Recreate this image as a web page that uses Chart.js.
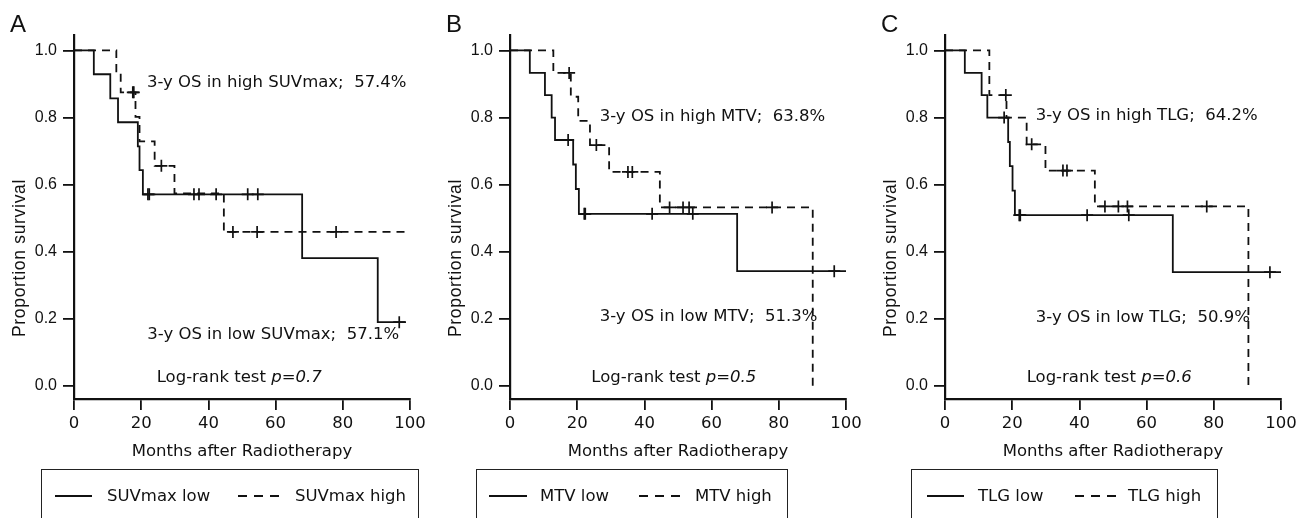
<!DOCTYPE html>
<html>
<head>
<meta charset="utf-8">
<script src="https://cdn.jsdelivr.net/npm/chart.js@4.4.1/dist/chart.umd.min.js"></script>
<style>
  body { margin: 0; background: #fff; width: 1306px; height: 518px; overflow: hidden; position: relative;
         font-family: "DejaVu Sans", sans-serif; color: #111; }
  .panel { position: absolute; top: 0; width: 436px; height: 518px; }
  .legend { position: absolute; top: 469px; height: 70px; border: 1.5px solid #222; box-sizing: border-box; }
  .sample { position: absolute; top: 495px; height: 1.6px; }
  .sample.solid { background: #111; }
  .sample.dashed { background: repeating-linear-gradient(to right, #111 0 9px, transparent 9px 16px); }
  .ltext { position: absolute; top: 495px; transform: translateY(-50%); font-size: 16.5px; white-space: nowrap; }
</style>
</head>
<body>
<div class="panel" style="left:0px"><canvas id="chartA"></canvas></div>
<div class="panel" style="left:436px"><canvas id="chartB"></canvas></div>
<div class="panel" style="left:871px"><canvas id="chartC"></canvas></div>

<div class="legend" style="left:41px;width:378px"></div>
<div class="sample solid" style="left:55px;width:37px"></div>
<div class="ltext" style="left:107px">SUVmax low</div>
<div class="sample dashed" style="left:238px;width:41px"></div>
<div class="ltext" style="left:295px">SUVmax high</div>

<div class="legend" style="left:476px;width:312px"></div>
<div class="sample solid" style="left:489px;width:38px"></div>
<div class="ltext" style="left:540px">MTV low</div>
<div class="sample dashed" style="left:639px;width:41px"></div>
<div class="ltext" style="left:695px">MTV high</div>

<div class="legend" style="left:911px;width:307px"></div>
<div class="sample solid" style="left:927px;width:37px"></div>
<div class="ltext" style="left:978px">TLG low</div>
<div class="sample dashed" style="left:1075px;width:41px"></div>
<div class="ltext" style="left:1128px">TLG high</div>

<script>
// axis ticks
const monthTicks = [0, 20, 40, 60, 80, 100];
const survTicks = [0, 0.2, 0.4, 0.6, 0.8, 1.0];

// A: SUVmax  (event times in months, survival after the step, censor times)
const suvLowMonths = [0, 5.9, 10.8, 13.1, 19.0, 19.5, 20.5, 67.9, 90.4, 98.8];
const suvLowSurv   = [1, 0.929, 0.857, 0.786, 0.714, 0.643, 0.571, 0.381, 0.19, 0.19];
const suvLowCensor = [22, 22.4, 35.7, 37.2, 42.3, 51.7, 54.7, 96.8];
const suvHighMonths = [0, 12.6, 13.9, 18.3, 19.5, 24.0, 29.9, 44.6, 99.8];
const suvHighSurv   = [1, 0.938, 0.875, 0.802, 0.729, 0.656, 0.574, 0.459, 0.459];
const suvHighCensor = [17.5, 17.8, 26.0, 47.3, 54.5, 78.0];

// B: MTV
const mtvLowMonths = [0, 5.9, 10.4, 12.4, 13.4, 18.8, 19.6, 20.5, 67.6, 100];
const mtvLowSurv   = [1, 0.933, 0.867, 0.8, 0.733, 0.66, 0.587, 0.513, 0.342, 0.342];
const mtvLowCensor = [17.3, 22.1, 22.4, 42.3, 54.4, 96.5];
const mtvHighMonths = [0, 12.9, 18.1, 20.3, 23.8, 29.5, 44.6, 90.1];
const mtvHighSurv   = [1, 0.933, 0.862, 0.79, 0.718, 0.638, 0.532, 0];
const mtvHighCensor = [17.6, 25.7, 35.1, 36.4, 47.5, 51.5, 53.3, 78.0];

// C: TLG
const tlgLowMonths = [0, 5.9, 10.9, 12.6, 18.8, 19.3, 20.1, 20.8, 67.8, 100];
const tlgLowSurv   = [1, 0.933, 0.867, 0.8, 0.727, 0.655, 0.582, 0.509, 0.339, 0.339];
const tlgLowCensor = [17.6, 22.1, 22.4, 42.3, 54.7, 96.7];
const tlgHighMonths = [0, 13.2, 18.3, 24.3, 29.9, 44.6, 90.3];
const tlgHighSurv   = [1, 0.867, 0.8, 0.72, 0.642, 0.535, 0];
const tlgHighCensor = [18.1, 25.8, 35.1, 36.3, 47.6, 51.6, 54.3, 77.9];

// annotation texts
const markers = ['SUVmax', 'MTV', 'TLG'];
const highOS = ['57.4%', '63.8%', '64.2%'];
const lowOS = ['57.1%', '51.3%', '50.9%'];
const pValues = ['0.7', '0.5', '0.6'];

const ink = '#111';
const tickFont = { family: 'Liberation Sans', size: 16 };
const textFont = '16.5px "DejaVu Sans"';

function steps(months, surv) {
  return months.map((m, i) => ({ x: m, y: surv[i] }));
}
// survival value of the curve at time t (last step at or before t)
function censorPoints(times, months, surv) {
  return times.map(t => {
    let s = surv[0];
    for (let i = 0; i < months.length; i++) if (months[i] <= t) s = surv[i];
    return { x: t, y: s };
  });
}

const panelText = {
  id: 'panelText',
  afterDraw(chart, args, o) {
    const { ctx, scales: { x, y } } = chart;
    ctx.save();
    ctx.fillStyle = ink;
    // panel letter
    ctx.font = '24px "Liberation Sans"';
    ctx.textBaseline = 'alphabetic';
    ctx.textAlign = 'left';
    ctx.fillText(o.letter, 10, 32);
    // y title
    ctx.save();
    ctx.translate(20, 258);
    ctx.rotate(-Math.PI / 2);
    ctx.font = '17.5px "Liberation Sans"';
    ctx.letterSpacing = '0.7px';
    ctx.textAlign = 'center';
    ctx.textBaseline = 'middle';
    ctx.fillText('Proportion survival', 0, 0);
    ctx.restore();
    // notes
    ctx.textBaseline = 'middle';
    o.notes.forEach(n => {
      const px = x.getPixelForValue(n.at[0]);
      const py = y.getPixelForValue(n.at[1]);
      ctx.font = textFont;
      ctx.fillText(n.text, px, py);
      if (n.italic) {
        const w = ctx.measureText(n.text).width;
        ctx.font = 'italic ' + textFont;
        ctx.fillText(n.italic, px + w, py);
      }
    });
    ctx.restore();
  }
};

function makePanel(id, letter, low, high, idx, notePos) {
  const lineDs = (data, dash) => ({
    data, borderColor: ink, borderWidth: 1.8, borderDash: dash, stepped: 'before',
    pointRadius: 0, fill: false, clip: false
  });
  const crossDs = (data) => ({
    data, showLine: false, pointStyle: 'cross', pointRadius: 6, pointBorderWidth: 1.7,
    pointBorderColor: ink, borderColor: ink, clip: false
  });
  new Chart(document.getElementById(id), {
    type: 'line',
    data: {
      datasets: [
        lineDs(steps(low.months, low.surv), []),
        lineDs(steps(high.months, high.surv), [8, 6]),
        crossDs(censorPoints(low.censor, low.months, low.surv)),
        crossDs(censorPoints(high.censor, high.months, high.surv))
      ]
    },
    options: {
      responsive: false,
      animation: false,
      layout: { padding: { left: 0, top: 35, right: 26, bottom: 49 } },
      plugins: {
        legend: { display: false },
        tooltip: { enabled: false },
        panelText: {
          letter,
          notes: [
            { text: '3-y OS in high ' + markers[idx] + ';  ' + highOS[idx], at: notePos[0] },
            { text: '3-y OS in low ' + markers[idx] + ';  ' + lowOS[idx], at: notePos[1] },
            { text: 'Log-rank test ', italic: 'p=' + pValues[idx], at: notePos[2] }
          ]
        }
      },
      scales: {
        x: {
          type: 'linear', min: 0, max: 100,
          afterBuildTicks: s => { s.ticks = monthTicks.map(v => ({ value: v })); },
          afterFit: s => { s.height = 70; },
          grid: { drawOnChartArea: false, drawTicks: true, tickLength: 11, color: ink, lineWidth: 1.8 },
          border: { display: true, color: ink, width: 2.2 },
          ticks: { font: { family: 'DejaVu Sans', size: 16.5 }, color: ink, padding: 4, maxRotation: 0, autoSkip: false },
          title: { display: true, text: 'Months after Radiotherapy', color: ink,
                   font: { family: 'DejaVu Sans', size: 16.5 }, padding: { top: 0, bottom: 7 } }
        },
        y: {
          type: 'linear', min: -0.039, max: 1.046,
          afterBuildTicks: s => { s.ticks = survTicks.map(v => ({ value: v })); },
          afterFit: s => { s.width = 74; },
          grid: { drawOnChartArea: false, drawTicks: true, tickLength: 11, color: ink, lineWidth: 1.8 },
          border: { display: true, color: ink, width: 2.2 },
          ticks: { font: tickFont, color: ink, padding: 6, callback: v => v.toFixed(1) }
        }
      }
    },
    plugins: [panelText]
  });
}

document.querySelectorAll('canvas').forEach(c => { c.width = 436; c.height = 518; });

makePanel('chartA', 'A',
  { months: suvLowMonths, surv: suvLowSurv, censor: suvLowCensor },
  { months: suvHighMonths, surv: suvHighSurv, censor: suvHighCensor },
  0, [[21.7, 0.903], [21.8, 0.152], [24.6, 0.024]]);
makePanel('chartB', 'B',
  { months: mtvLowMonths, surv: mtvLowSurv, censor: mtvLowCensor },
  { months: mtvHighMonths, surv: mtvHighSurv, censor: mtvHighCensor },
  1, [[26.7, 0.803], [26.7, 0.207], [24.2, 0.024]]);
makePanel('chartC', 'C',
  { months: tlgLowMonths, surv: tlgLowSurv, censor: tlgLowCensor },
  { months: tlgHighMonths, surv: tlgHighSurv, censor: tlgHighCensor },
  2, [[27.0, 0.805], [27.0, 0.203], [24.3, 0.024]]);
</script>
</body>
</html>
